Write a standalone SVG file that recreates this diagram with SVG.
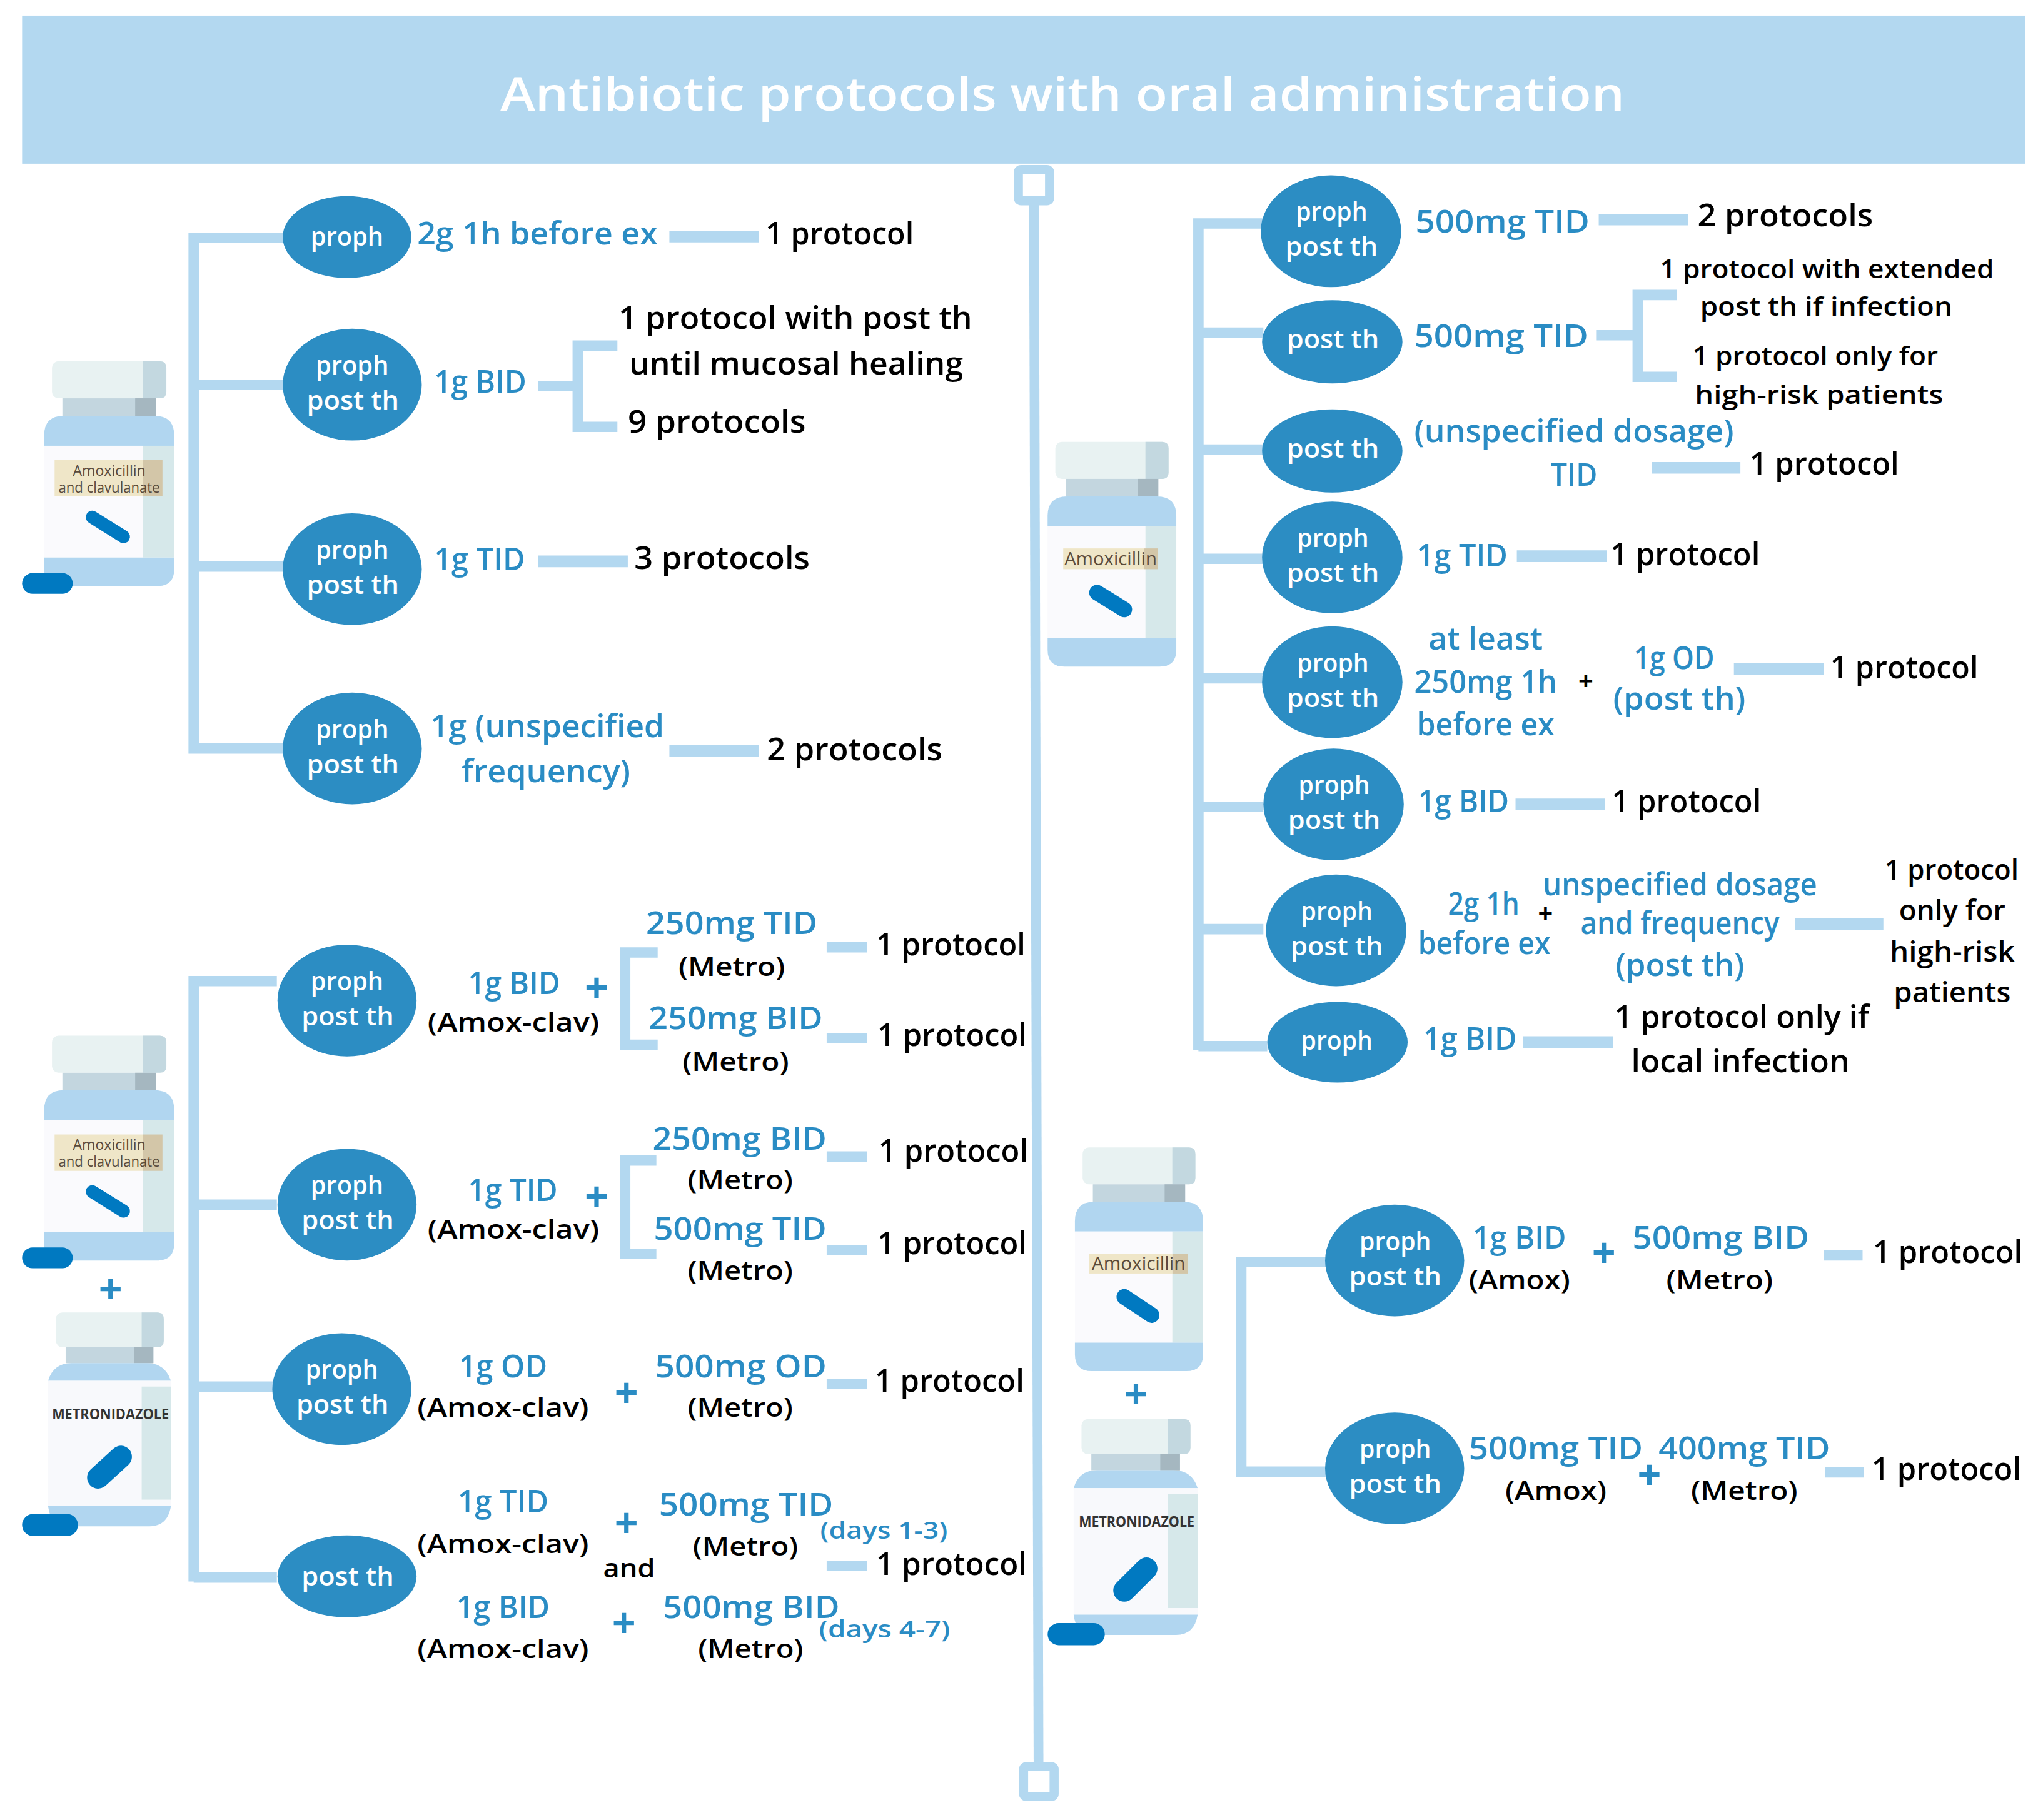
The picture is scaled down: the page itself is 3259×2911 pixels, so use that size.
<svg xmlns="http://www.w3.org/2000/svg" xmlns:xlink="http://www.w3.org/1999/xlink" width="3259" height="2911" viewBox="0 0 3259 2911">
<style>
text{font-family:"Open Sans","Noto Sans",sans-serif}
.b{fill:#2a8cc4;font-size:24px;font-weight:600}
.k{fill:#000;font-size:24px;font-weight:600}
.s{font-size:22px}
.x{font-size:20px}
.w{fill:#fff;font-size:20px;font-weight:600}
.t{fill:#fff;font-size:36px;font-weight:600}
.n{fill:#2c8dc3}
.p{font-size:32px;font-weight:700;fill:#2a8cc4;text-anchor:middle}
.pk{font-size:20px;font-weight:700;fill:#000;text-anchor:middle}
.c{fill:none;stroke:#b3d8f0;stroke-width:8;stroke-linejoin:miter}
.h{stroke-width:9}
.lab{fill:#5a4a3a;font-size:11px;font-weight:500;text-anchor:middle}
.met{fill:#333;font-size:11px;font-weight:700}
.pill{stroke:#0079c1;stroke-linecap:round;fill:none}
.pb{fill:#0079c1}
</style>
<defs>
<g id="bottleA">
<rect x="6" y="0" width="88" height="28.5" rx="5" fill="#e8f2f2"/>
<path d="M76 0H89Q94 0 94 5V23.5Q94 28.5 89 28.5H76Z" fill="#c3d8e0"/>
<rect x="14" y="28.5" width="72" height="13.5" fill="#c3d6df"/>
<rect x="70" y="28.5" width="16" height="13.5" fill="#a5b7c0"/>
<path d="M0 65V57Q0 42 15 42H85Q100 42 100 57V65Z" fill="#b1d6f0"/>
<rect x="0" y="65" width="76" height="86" fill="#fafafd"/>
<rect x="76" y="65" width="24" height="86" fill="#d6e8ea"/>
<path d="M0 151H100V160Q100 173 87 173H13Q0 173 0 160Z" fill="#b1d6f0"/>
</g>
<g id="bottleM">
<rect x="6" y="0" width="83" height="26.8" rx="5" fill="#e8f2f2"/>
<path d="M72 0H84Q89 0 89 5V21.8Q89 26.8 84 26.8H72Z" fill="#c3d8e0"/>
<rect x="13.500" y="26.8" width="67.500" height="12.200" fill="#c3d6df"/>
<rect x="66" y="26.8" width="15" height="12.200" fill="#a5b7c0"/>
<path d="M0 52.600Q4 39 18 39H76Q90 39 94.500 52.600Z" fill="#b1d6f0"/>
<rect x="0" y="52.600" width="94.500" height="96.400" fill="#f8f9fc"/>
<rect x="72" y="57" width="22.500" height="87" fill="#d6e8ea"/>
<path d="M0 149H94.500Q92 164.500 78 164.500H14Q2 164.500 0 149Z" fill="#b1d6f0"/>
</g>
</defs>
<rect width="3259" height="2911" fill="#fff"/>
<g transform="scale(2.0785)">
<g id="header">
<rect x="17" y="12" width="1541" height="114" fill="#b3d8f0"/>
<text class="t" x="385" y="85" textLength="865" lengthAdjust="spacingAndGlyphs">Antibiotic protocols with oral administration</text>
</g>
<g id="connectors">
<path class="c" d="M795.500 157L799 1356" style="stroke-width:7.500"/>
<rect class="c" x="783.500" y="130.500" width="24" height="24" rx="2" style="stroke-width:7"/>
<rect class="c" x="787.500" y="1359.500" width="23.500" height="23" rx="2" style="stroke-width:7"/>
<path class="c" d="M218 183H149V580M149 296H218M149 436H218M149 576H218"/>
<path class="c" d="M213 755H149V1217M149 927H213M149 1067H210M149 1214H213"/>
<path class="c" d="M972 172H922V808M922 256H972M922 346H972M922 430H972M922 522H972M922 621H972M922 715H972M922 805H975"/>
<path class="c" d="M1020 971H955V1132.500H1020"/>
<path class="c h" d="M515 182H584M414 432H483M515 578H584"/>
<path class="c" d="M414 297H444M475 266H444.500V328.500H475"/>
<path class="c" d="M506 733H481V804H506M505 893H481V965H505"/>
<path class="c" d="M636 729H667M636 799H667M636 890H667M636 962H667M636 1065H667M636 1205H667"/>
<path class="c h" d="M1230 169H1299M1271 360H1339M1167 428H1236M1334 515H1403M1166 619H1235M1381 711H1449M1172 802H1241"/>
<path class="c" d="M1228 258H1260M1290 227H1260V290H1290"/>
<path class="c" d="M1403 966H1433M1404 1133H1434"/>
</g>

<g id="bottle-amoxclav-1">
<use href="#bottleA" transform="translate(34,278)"/>
<rect x="42" y="354" width="68" height="28" fill="#efe6c8"/><rect x="110" y="354" width="15" height="28" fill="#d3c6a8"/>
<text class="lab" x="84" y="366" textLength="56" lengthAdjust="spacingAndGlyphs">Amoxicillin</text>
<text class="lab" x="84" y="379" textLength="78" lengthAdjust="spacingAndGlyphs">and clavulanate</text>
<path class="pill" d="M71 398L95 413" stroke-width="10"/>
<rect class="pb" x="17" y="441" width="39" height="16" rx="8"/>
</g>
<g id="bottle-amoxclav-2">
<use href="#bottleA" transform="translate(34,797)"/>
<rect x="42" y="873" width="68" height="28" fill="#efe6c8"/><rect x="110" y="873" width="15" height="28" fill="#d3c6a8"/>
<text class="lab" x="84" y="885" textLength="56" lengthAdjust="spacingAndGlyphs">Amoxicillin</text>
<text class="lab" x="84" y="898" textLength="78" lengthAdjust="spacingAndGlyphs">and clavulanate</text>
<path class="pill" d="M71 917L95 932" stroke-width="10"/>
<rect class="pb" x="17" y="960" width="39" height="16" rx="8"/>
</g>
<g id="plus-left"><text class="p" x="85" y="1003">+</text></g>
<g id="bottle-metro-1">
<use href="#bottleM" transform="translate(37,1010)"/>
<text class="met" x="40" y="1092" textLength="90" lengthAdjust="spacingAndGlyphs">METRONIDAZOLE</text>
<path class="pill" d="M75.500 1137L93 1121" stroke-width="17"/>
<rect class="pb" x="17" y="1165" width="43" height="17" rx="8.500"/>
</g>
<g id="bottle-amox-1">
<use href="#bottleA" transform="translate(806,340) scale(.99,1)"/>
<rect x="818" y="422" width="62" height="16" fill="#efe6c8"/><rect x="880" y="422" width="11" height="16" fill="#d3c6a8"/>
<text class="lab" style="font-size:14px" x="854.500" y="435" textLength="71" lengthAdjust="spacingAndGlyphs">Amoxicillin</text>
<path class="pill" d="M844 456L865 469" stroke-width="12"/>
</g>
<g id="bottle-amox-2">
<use href="#bottleA" transform="translate(827,883) scale(.986,.995)"/>
<rect x="838" y="965" width="64" height="15" fill="#efe6c8"/><rect x="902" y="965" width="12" height="15" fill="#d3c6a8"/>
<text class="lab" style="font-size:14px" x="876" y="977" textLength="72" lengthAdjust="spacingAndGlyphs">Amoxicillin</text>
<path class="pill" d="M865 998L886 1012" stroke-width="12"/>
</g>
<g id="plus-right"><text class="p" x="874" y="1084">+</text></g>
<g id="bottle-metro-2">
<use href="#bottleM" transform="translate(826,1092) scale(1.01)"/>
<text class="met" x="830" y="1175" textLength="89" lengthAdjust="spacingAndGlyphs">METRONIDAZOLE</text>
<path class="pill" d="M865 1224L882 1207" stroke-width="17"/>
<rect class="pb" x="806" y="1249" width="44" height="17" rx="8.500"/>
</g>

<g id="n1"><ellipse class="n" cx="267" cy="182.500" rx="49.500" ry="31.500"/><text class="w" x="239" y="189" textLength="56" lengthAdjust="spacingAndGlyphs">proph</text></g>
<g id="n2"><ellipse class="n" cx="271" cy="296" rx="53.500" ry="43"/><text class="w" x="243" y="288" textLength="56" lengthAdjust="spacingAndGlyphs">proph</text><text class="w" x="236" y="315" textLength="71" lengthAdjust="spacingAndGlyphs">post th</text></g>
<g id="n3"><ellipse class="n" cx="271" cy="438" rx="53.500" ry="43"/><text class="w" x="243" y="430" textLength="56" lengthAdjust="spacingAndGlyphs">proph</text><text class="w" x="236" y="457" textLength="71" lengthAdjust="spacingAndGlyphs">post th</text></g>
<g id="n4"><ellipse class="n" cx="271" cy="576" rx="53.500" ry="43"/><text class="w" x="243" y="568" textLength="56" lengthAdjust="spacingAndGlyphs">proph</text><text class="w" x="236" y="595" textLength="71" lengthAdjust="spacingAndGlyphs">post th</text></g>
<g id="n5"><ellipse class="n" cx="267" cy="770" rx="53.500" ry="43"/><text class="w" x="239" y="762" textLength="56" lengthAdjust="spacingAndGlyphs">proph</text><text class="w" x="232" y="789" textLength="71" lengthAdjust="spacingAndGlyphs">post th</text></g>
<g id="n6"><ellipse class="n" cx="267" cy="927" rx="53.500" ry="43"/><text class="w" x="239" y="919" textLength="56" lengthAdjust="spacingAndGlyphs">proph</text><text class="w" x="232" y="946" textLength="71" lengthAdjust="spacingAndGlyphs">post th</text></g>
<g id="n7"><ellipse class="n" cx="263" cy="1069" rx="53.500" ry="43"/><text class="w" x="235" y="1061" textLength="56" lengthAdjust="spacingAndGlyphs">proph</text><text class="w" x="228" y="1088" textLength="71" lengthAdjust="spacingAndGlyphs">post th</text></g>
<g id="n8"><ellipse class="n" cx="267" cy="1213" rx="53.500" ry="31.500"/><text class="w" x="232" y="1220" textLength="71" lengthAdjust="spacingAndGlyphs">post th</text></g>
<g id="n9"><ellipse class="n" cx="1024" cy="178" rx="54" ry="43"/><text class="w" x="997" y="170" textLength="55" lengthAdjust="spacingAndGlyphs">proph</text><text class="w" x="989" y="197" textLength="71" lengthAdjust="spacingAndGlyphs">post th</text></g>
<g id="n10"><ellipse class="n" cx="1025" cy="263" rx="54" ry="32"/><text class="w" x="990" y="268" textLength="71" lengthAdjust="spacingAndGlyphs">post th</text></g>
<g id="n11"><ellipse class="n" cx="1025" cy="347" rx="54" ry="32"/><text class="w" x="990" y="352" textLength="71" lengthAdjust="spacingAndGlyphs">post th</text></g>
<g id="n12"><ellipse class="n" cx="1025" cy="429" rx="54" ry="43"/><text class="w" x="998" y="421" textLength="55" lengthAdjust="spacingAndGlyphs">proph</text><text class="w" x="990" y="448" textLength="71" lengthAdjust="spacingAndGlyphs">post th</text></g>
<g id="n13"><ellipse class="n" cx="1025" cy="525" rx="54" ry="43"/><text class="w" x="998" y="517" textLength="55" lengthAdjust="spacingAndGlyphs">proph</text><text class="w" x="990" y="544" textLength="71" lengthAdjust="spacingAndGlyphs">post th</text></g>
<g id="n14"><ellipse class="n" cx="1026" cy="619" rx="54" ry="43"/><text class="w" x="999" y="611" textLength="55" lengthAdjust="spacingAndGlyphs">proph</text><text class="w" x="991" y="638" textLength="71" lengthAdjust="spacingAndGlyphs">post th</text></g>
<g id="n15"><ellipse class="n" cx="1028" cy="716" rx="54" ry="43"/><text class="w" x="1001" y="708" textLength="55" lengthAdjust="spacingAndGlyphs">proph</text><text class="w" x="993" y="735" textLength="71" lengthAdjust="spacingAndGlyphs">post th</text></g>
<g id="n16"><ellipse class="n" cx="1029" cy="802" rx="54" ry="31"/><text class="w" x="1001" y="808" textLength="55" lengthAdjust="spacingAndGlyphs">proph</text></g>
<g id="n17"><ellipse class="n" cx="1073" cy="970" rx="53.500" ry="43"/><text class="w" x="1046" y="962" textLength="55" lengthAdjust="spacingAndGlyphs">proph</text><text class="w" x="1038" y="989" textLength="71" lengthAdjust="spacingAndGlyphs">post th</text></g>
<g id="n18"><ellipse class="n" cx="1073" cy="1130" rx="53.500" ry="43"/><text class="w" x="1046" y="1122" textLength="55" lengthAdjust="spacingAndGlyphs">proph</text><text class="w" x="1038" y="1149" textLength="71" lengthAdjust="spacingAndGlyphs">post th</text></g>

<g id="labels-amoxclav">
<text class="b" x="321" y="188" textLength="185" lengthAdjust="spacingAndGlyphs">2g 1h before ex</text>
<text class="k" x="589" y="188" textLength="114" lengthAdjust="spacingAndGlyphs">1 protocol</text>
<text class="b" x="334" y="302" textLength="71" lengthAdjust="spacingAndGlyphs">1g BID</text>
<text class="k" x="476" y="253" textLength="272" lengthAdjust="spacingAndGlyphs">1 protocol with post th</text>
<text class="k" x="484" y="288" textLength="257" lengthAdjust="spacingAndGlyphs">until mucosal healing</text>
<text class="k" x="483" y="333" textLength="137" lengthAdjust="spacingAndGlyphs">9 protocols</text>
<text class="b" x="334" y="439" textLength="70" lengthAdjust="spacingAndGlyphs">1g TID</text>
<text class="k" x="488" y="438" textLength="135" lengthAdjust="spacingAndGlyphs">3 protocols</text>
<text class="b" x="331" y="567" textLength="180" lengthAdjust="spacingAndGlyphs">1g (unspecified</text>
<text class="b" x="355" y="602" textLength="130" lengthAdjust="spacingAndGlyphs">frequency)</text>
<text class="k" x="590" y="585" textLength="135" lengthAdjust="spacingAndGlyphs">2 protocols</text>
</g>
<g id="labels-combo">
<text class="b" x="360" y="765" textLength="71" lengthAdjust="spacingAndGlyphs">1g BID</text>
<text class="k x" x="329" y="794" textLength="132" lengthAdjust="spacingAndGlyphs">(Amox-clav)</text>
<text class="p" x="459" y="771">+</text>
<text class="b" x="497" y="719" textLength="132" lengthAdjust="spacingAndGlyphs">250mg TID</text>
<text class="k x" x="522" y="751" textLength="82" lengthAdjust="spacingAndGlyphs">(Metro)</text>
<text class="k" x="674" y="735" textLength="115" lengthAdjust="spacingAndGlyphs">1 protocol</text>
<text class="b" x="499" y="792" textLength="134" lengthAdjust="spacingAndGlyphs">250mg BID</text>
<text class="k x" x="525" y="824" textLength="82" lengthAdjust="spacingAndGlyphs">(Metro)</text>
<text class="k" x="675" y="805" textLength="115" lengthAdjust="spacingAndGlyphs">1 protocol</text>
<text class="b" x="360" y="924" textLength="69" lengthAdjust="spacingAndGlyphs">1g TID</text>
<text class="k x" x="329" y="953" textLength="132" lengthAdjust="spacingAndGlyphs">(Amox-clav)</text>
<text class="p" x="459" y="932">+</text>
<text class="b" x="502" y="885" textLength="134" lengthAdjust="spacingAndGlyphs">250mg BID</text>
<text class="k x" x="529" y="915" textLength="81" lengthAdjust="spacingAndGlyphs">(Metro)</text>
<text class="k" x="676" y="894" textLength="115" lengthAdjust="spacingAndGlyphs">1 protocol</text>
<text class="b" x="503" y="954" textLength="133" lengthAdjust="spacingAndGlyphs">500mg TID</text>
<text class="k x" x="529" y="985" textLength="81" lengthAdjust="spacingAndGlyphs">(Metro)</text>
<text class="k" x="675" y="965" textLength="115" lengthAdjust="spacingAndGlyphs">1 protocol</text>
<text class="b" x="353" y="1060" textLength="68" lengthAdjust="spacingAndGlyphs">1g OD</text>
<text class="k x" x="321" y="1090" textLength="132" lengthAdjust="spacingAndGlyphs">(Amox-clav)</text>
<text class="p" x="482" y="1083">+</text>
<text class="b" x="504" y="1060" textLength="132" lengthAdjust="spacingAndGlyphs">500mg OD</text>
<text class="k x" x="529" y="1090" textLength="81" lengthAdjust="spacingAndGlyphs">(Metro)</text>
<text class="k" x="673" y="1071" textLength="115" lengthAdjust="spacingAndGlyphs">1 protocol</text>
<text class="b" x="352" y="1164" textLength="70" lengthAdjust="spacingAndGlyphs">1g TID</text>
<text class="k x" x="321" y="1195" textLength="132" lengthAdjust="spacingAndGlyphs">(Amox-clav)</text>
<text class="p" x="482" y="1183">+</text>
<text class="b" x="507" y="1166" textLength="134" lengthAdjust="spacingAndGlyphs">500mg TID</text>
<text class="k x" x="533" y="1197" textLength="81" lengthAdjust="spacingAndGlyphs">(Metro)</text>
<text class="b" style="font-size:18px" x="631" y="1184" textLength="98" lengthAdjust="spacingAndGlyphs">(days 1-3)</text>
<text class="k x" x="464" y="1214" textLength="40" lengthAdjust="spacingAndGlyphs">and</text>
<text class="k" x="674" y="1212" textLength="116" lengthAdjust="spacingAndGlyphs">1 protocol</text>
<text class="b" x="351" y="1245" textLength="72" lengthAdjust="spacingAndGlyphs">1g BID</text>
<text class="k x" x="321" y="1276" textLength="132" lengthAdjust="spacingAndGlyphs">(Amox-clav)</text>
<text class="p" x="480" y="1260">+</text>
<text class="b" x="510" y="1245" textLength="136" lengthAdjust="spacingAndGlyphs">500mg BID</text>
<text class="k x" x="537" y="1276" textLength="81" lengthAdjust="spacingAndGlyphs">(Metro)</text>
<text class="b" style="font-size:18px" x="630" y="1260" textLength="101" lengthAdjust="spacingAndGlyphs">(days 4-7)</text>
</g>
<g id="labels-amox">
<text class="b" x="1089" y="179" textLength="134" lengthAdjust="spacingAndGlyphs">500mg TID</text>
<text class="k" x="1306" y="174" textLength="135" lengthAdjust="spacingAndGlyphs">2 protocols</text>
<text class="b" x="1088" y="267" textLength="134" lengthAdjust="spacingAndGlyphs">500mg TID</text>
<text class="k x" x="1277" y="214" textLength="257" lengthAdjust="spacingAndGlyphs">1 protocol with extended</text>
<text class="k x" x="1308" y="243" textLength="194" lengthAdjust="spacingAndGlyphs">post th if infection</text>
<text class="k x" x="1302" y="281" textLength="189" lengthAdjust="spacingAndGlyphs">1 protocol only for</text>
<text class="k x" x="1304" y="311" textLength="191" lengthAdjust="spacingAndGlyphs">high-risk patients</text>
<text class="b" x="1088" y="340" textLength="246" lengthAdjust="spacingAndGlyphs">(unspecified dosage)</text>
<text class="b" x="1193" y="374" textLength="36" lengthAdjust="spacingAndGlyphs">TID</text>
<text class="k" x="1346" y="365" textLength="115" lengthAdjust="spacingAndGlyphs">1 protocol</text>
<text class="b" x="1090" y="436" textLength="70" lengthAdjust="spacingAndGlyphs">1g TID</text>
<text class="k" x="1239" y="435" textLength="115" lengthAdjust="spacingAndGlyphs">1 protocol</text>
<text class="b" x="1099" y="500" textLength="88" lengthAdjust="spacingAndGlyphs">at least</text>
<text class="b" x="1088" y="533" textLength="110" lengthAdjust="spacingAndGlyphs">250mg 1h</text>
<text class="b" x="1090" y="566" textLength="106" lengthAdjust="spacingAndGlyphs">before ex</text>
<text class="pk" x="1220" y="531">+</text>
<text class="b" x="1257" y="515" textLength="62" lengthAdjust="spacingAndGlyphs">1g OD</text>
<text class="b" x="1241" y="546" textLength="102" lengthAdjust="spacingAndGlyphs">(post th)</text>
<text class="k" x="1408" y="522" textLength="114" lengthAdjust="spacingAndGlyphs">1 protocol</text>
<text class="b" x="1091" y="625" textLength="70" lengthAdjust="spacingAndGlyphs">1g BID</text>
<text class="k" x="1240" y="625" textLength="115" lengthAdjust="spacingAndGlyphs">1 protocol</text>
<text class="b" x="1114" y="704" textLength="55" lengthAdjust="spacingAndGlyphs">2g 1h</text>
<text class="b" x="1091" y="734" textLength="102" lengthAdjust="spacingAndGlyphs">before ex</text>
<text class="pk" x="1189" y="710">+</text>
<text class="b" x="1187" y="689" textLength="211" lengthAdjust="spacingAndGlyphs">unspecified dosage</text>
<text class="b" x="1216" y="719" textLength="153" lengthAdjust="spacingAndGlyphs">and frequency</text>
<text class="b" x="1243" y="751" textLength="99" lengthAdjust="spacingAndGlyphs">(post th)</text>
<text class="k s" x="1450" y="677" textLength="103" lengthAdjust="spacingAndGlyphs">1 protocol</text>
<text class="k s" x="1461" y="708" textLength="82" lengthAdjust="spacingAndGlyphs">only for</text>
<text class="k s" x="1454" y="740" textLength="96" lengthAdjust="spacingAndGlyphs">high-risk</text>
<text class="k s" x="1457" y="771" textLength="90" lengthAdjust="spacingAndGlyphs">patients</text>
<text class="b" x="1095" y="808" textLength="72" lengthAdjust="spacingAndGlyphs">1g BID</text>
<text class="k" x="1242" y="791" textLength="196" lengthAdjust="spacingAndGlyphs">1 protocol only if</text>
<text class="k" x="1255" y="825" textLength="168" lengthAdjust="spacingAndGlyphs">local infection</text>
</g>
<g id="labels-amox-metro">
<text class="b" x="1133" y="961" textLength="72" lengthAdjust="spacingAndGlyphs">1g BID</text>
<text class="k x" x="1130" y="992" textLength="78" lengthAdjust="spacingAndGlyphs">(Amox)</text>
<text class="p" x="1234" y="975">+</text>
<text class="b" x="1256" y="961" textLength="136" lengthAdjust="spacingAndGlyphs">500mg BID</text>
<text class="k x" x="1282" y="992" textLength="82" lengthAdjust="spacingAndGlyphs">(Metro)</text>
<text class="k" x="1441" y="972" textLength="115" lengthAdjust="spacingAndGlyphs">1 protocol</text>
<text class="b" x="1130" y="1123" textLength="134" lengthAdjust="spacingAndGlyphs">500mg TID</text>
<text class="k x" x="1158" y="1154" textLength="78" lengthAdjust="spacingAndGlyphs">(Amox)</text>
<text class="p" x="1269" y="1146">+</text>
<text class="b" x="1276" y="1123" textLength="132" lengthAdjust="spacingAndGlyphs">400mg TID</text>
<text class="k x" x="1301" y="1154" textLength="82" lengthAdjust="spacingAndGlyphs">(Metro)</text>
<text class="k" x="1440" y="1139" textLength="115" lengthAdjust="spacingAndGlyphs">1 protocol</text>
</g>
</g>
</svg>
